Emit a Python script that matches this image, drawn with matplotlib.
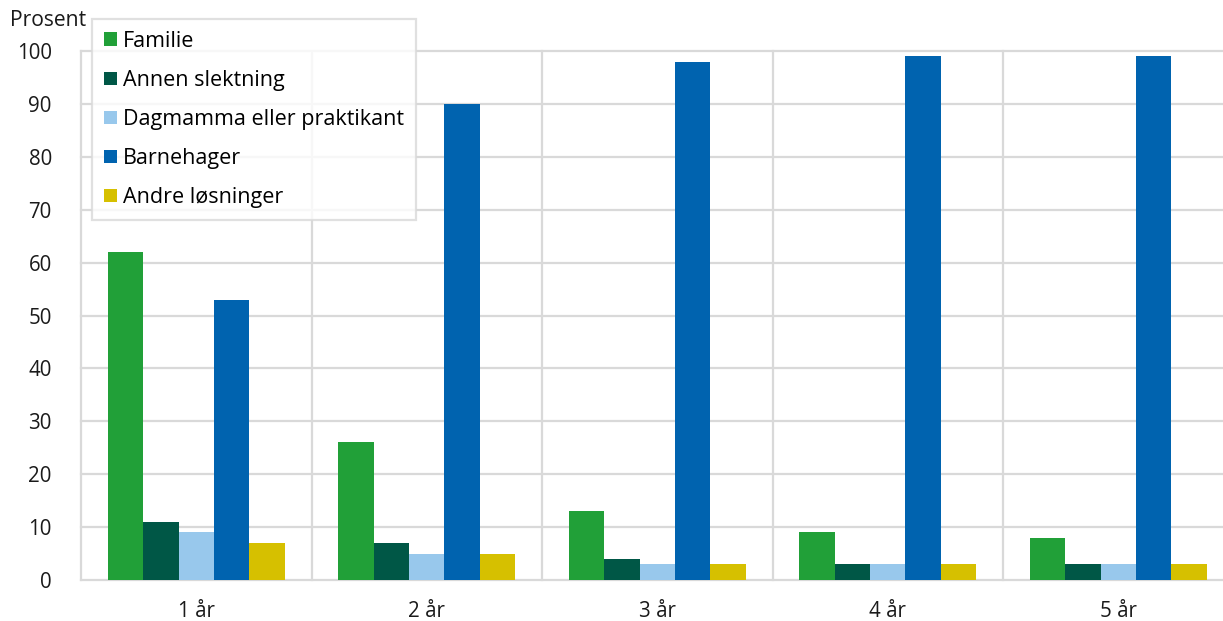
import numpy as np
import matplotlib
matplotlib.use("Agg")
import matplotlib.pyplot as plt

plt.rcParams["font.family"] = ["Open Sans", "DejaVu Sans"]

groups = ["1 år", "2 år", "3 år", "4 år", "5 år"]
series = ["Familie", "Annen slektning", "Dagmamma eller praktikant", "Barnehager", "Andre løsninger"]
familie = [62, 26, 13, 9, 8]
annen = [11, 7, 4, 3, 3]
dagmamma = [9, 5, 3, 3, 3]
barnehager = [53, 90, 98, 99, 99]
andre = [7, 5, 3, 3, 3]
colors = ["#21A038", "#005746", "#98C8EC", "#0063AF", "#D6C000"]

values = [familie, annen, dagmamma, barnehager, andre]

fig = plt.figure(figsize=(12.23, 6.21), dpi=100)
ax = fig.add_axes([81 / 1223, 1 - 580 / 621, 1152.5 / 1223, 529 / 621])

x = np.arange(len(groups))
w = 0.154
for i, (name, vals) in enumerate(zip(series, values)):
    ax.bar(x + (i - 2) * w, vals, w, color=colors[i], label=name, zorder=3)

ax.set_xlim(-0.5, len(groups) - 0.5)
ax.set_ylim(0, 100)
ax.set_yticks(np.arange(0, 101, 10))
ax.set_xticks(x)
ax.set_xticklabels(groups)

grid_col = "#D9D9D9"
ax.grid(axis="y", color=grid_col, linewidth=1.6, zorder=0)
for line in ax.get_ygridlines():
    line.set_clip_on(False)
# group separators
for b in np.arange(-0.5, len(groups), 1):
    ax.axvline(b, color=grid_col, linewidth=1.6, zorder=0, clip_on=False)
for s in ax.spines.values():
    s.set_visible(False)

ax.tick_params(axis="both", which="both", length=0, labelsize=14.8, colors="#1a1a1a")
ax.tick_params(axis="y", pad=21)
ax.tick_params(axis="x", pad=15)

fig.text(10 / 1223, 1 - 20 / 621, "Prosent", fontsize=15.2, va="center", ha="left", color="#1a1a1a")

leg = fig.legend(loc="upper left", bbox_to_anchor=(92 / 1223, 1 - 19 / 621),
                 frameon=True, fancybox=False, fontsize=15.5, handlelength=0.6,
                 handleheight=0.6, handletextpad=0.3, labelspacing=0.84,
                 borderpad=0.55, borderaxespad=0)
leg.get_frame().set_edgecolor(grid_col)
leg.get_frame().set_linewidth(1.6)

fig.savefig("out.png", dpi=100)
